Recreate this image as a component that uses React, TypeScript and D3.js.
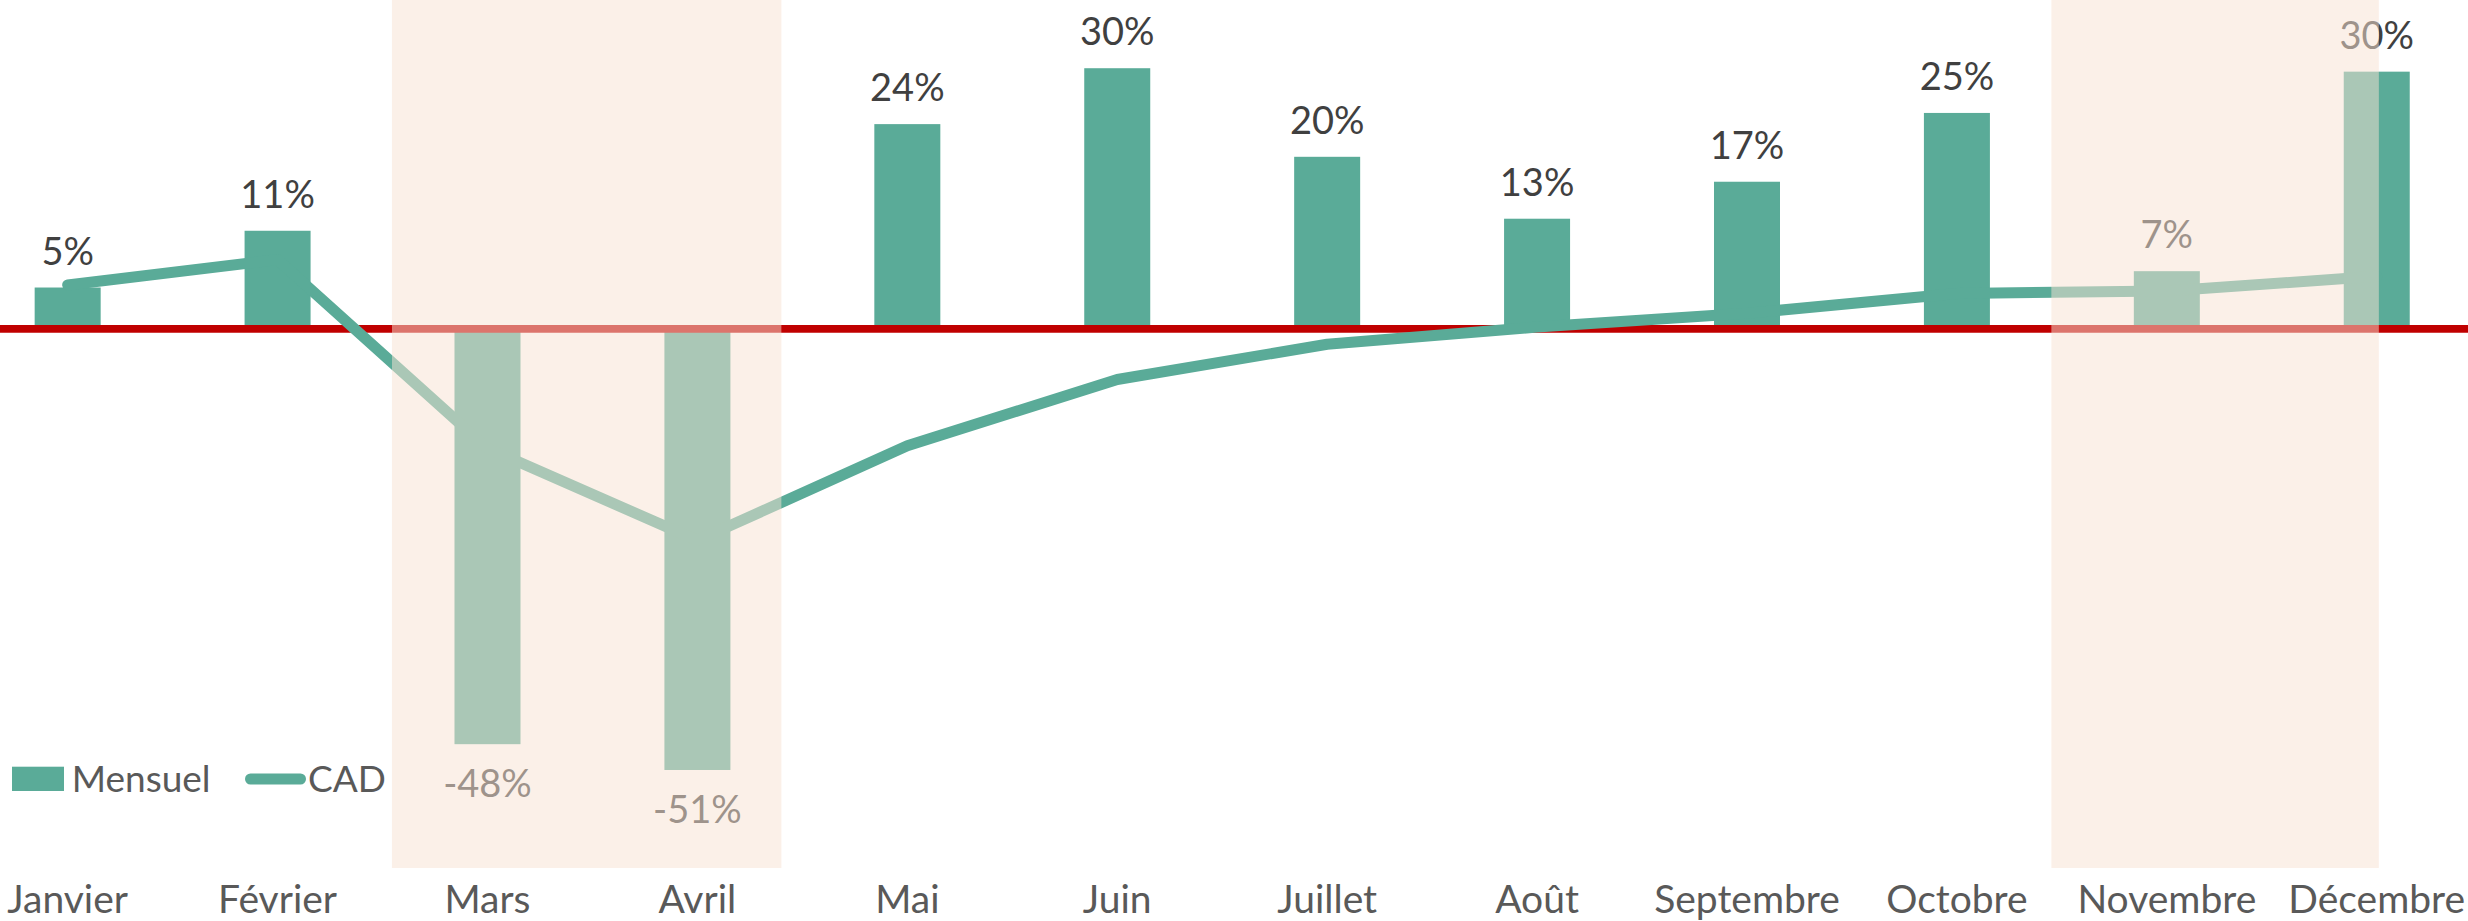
import React from "react";
import * as d3 from "d3";

// ---- Data ----
const months = [
  "Janvier", "Février", "Mars", "Avril", "Mai", "Juin",
  "Juillet", "Août", "Septembre", "Octobre", "Novembre", "Décembre",
];
const mensuel = [0.048, 0.114, -0.483, -0.513, 0.238, 0.303, 0.2, 0.128, 0.171, 0.251, 0.067, 0.299];
const cad = [0.051, 0.0805, -0.139, -0.246, -0.136, -0.059, -0.018, 0.002, 0.018, 0.041, 0.044, 0.061];
const shadedPeriods = [
  { from: "Mars", to: "Avril" },
  { from: "Novembre", to: "Décembre" },
];
const legendLabels = ["Mensuel", "CAD"];

// ---- Layout / style ----
const W = 2468;
const H = 921;
const FONT = "Lato, 'Open Sans', sans-serif";
const TEAL = "#5AAB98";
const RED = "#C00000";
const SHADE = "rgba(247,226,211,0.515)";
const shadeOffsets = [
  { left: -0.455, right: 0.4 },
  { left: -0.55, right: 0.01 },
];

const pct = (v: number) => `${Math.round(v * 100)}%`;

export default function App() {
  const x = d3.scaleBand<string>().domain(months).range([-37.3, 2481.7]).paddingInner(0).paddingOuter(0);
  const bw = x.bandwidth();
  const cx = (m: string) => (x(m) as number) + bw / 2;
  const y = d3.scaleLinear().domain([-0.6, 0.35]).range([844.8, 27.8]);
  const barW = 66;

  const line = d3
    .line<number>()
    .x((_, i) => cx(months[i]))
    .y((d) => y(d));

  return (
    <svg
      width={W}
      height={H}
      style={{ position: "absolute", left: 0, top: 0, display: "block", background: "#fff" }}
      fontFamily={FONT}
    >
      {/* bars */}
      {mensuel.map((v, i) => (
        <rect
          key={"b" + i}
          x={cx(months[i]) - barW / 2}
          width={barW}
          y={Math.min(y(v), y(0))}
          height={Math.abs(y(v) - y(0))}
          fill={TEAL}
        />
      ))}
      {/* zero line */}
      <line x1={0} x2={W} y1={y(0)} y2={y(0)} stroke={RED} strokeWidth={7.7} />
      {/* CAD line */}
      <path d={line(cad) || ""} fill="none" stroke={TEAL} strokeWidth={11} strokeLinecap="round" strokeLinejoin="round" />
      {/* data labels */}
      {mensuel.map((v, i) => (
        <text
          key={"l" + i}
          x={cx(months[i])}
          y={v >= 0 ? y(v) - 23 : y(v) + 53}
          textAnchor="middle"
          fontSize={38}
          fill="#404040"
        >
          {pct(v)}
        </text>
      ))}
      {/* legend */}
      <g>
        <rect x={12} y={766.7} width={52} height={24.3} fill={TEAL} />
        <text x={71.7} y={792.3} fontSize={37} fill="#595959">{legendLabels[0]}</text>
        <line x1={250.5} x2={300.5} y1={779} y2={779} stroke={TEAL} strokeWidth={11} strokeLinecap="round" />
        <text x={308} y={792.3} fontSize={37} fill="#595959">{legendLabels[1]}</text>
      </g>
      {/* shaded periods (overlay) */}
      {shadedPeriods.map((s, i) => {
        const x0 = cx(s.from) + shadeOffsets[i].left * bw;
        const x1 = cx(s.to) + shadeOffsets[i].right * bw;
        return <rect key={"s" + i} x={x0} y={0} width={x1 - x0} height={868} fill={SHADE} />;
      })}
      {/* x axis labels */}
      {months.map((m) => (
        <text key={"x" + m} x={cx(m)} y={913} textAnchor="middle" fontSize={39} fill="#595959">
          {m}
        </text>
      ))}
    </svg>
  );
}
